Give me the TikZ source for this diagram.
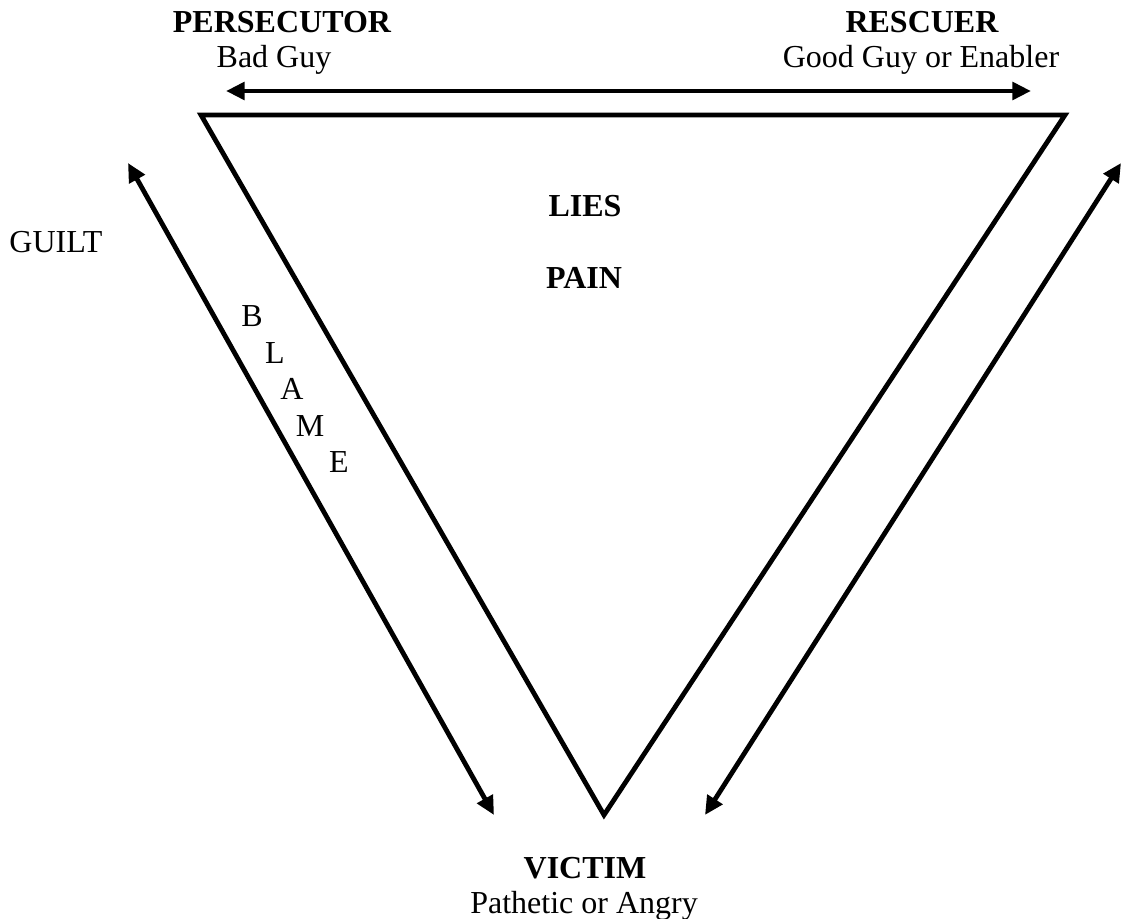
\documentclass[tikz,border=0pt]{standalone}
\usepackage{fontspec}
\setmainfont{Liberation Serif}
\usetikzlibrary{arrows.meta}
\begin{document}
\begin{tikzpicture}[x=0.75pt,y=-0.75pt,
  lbl/.style={inner sep=0pt,anchor=base,font=\fontsize{24}{28}\selectfont},
  blbl/.style={lbl,font=\fontsize{24}{28}\selectfont\bfseries},
  edge/.style={line width=3.6pt,line join=miter},
  dbl/.style={line width=3.6pt,{Triangle[length=14pt,width=13pt]}-{Triangle[length=14pt,width=13pt]}}]
\useasboundingbox (0,0) rectangle (1122,919);
% triangle corners
\coordinate (P) at (201,115);
\coordinate (R) at (1065,115);
\coordinate (V) at (604,815);
\draw[edge] (P) -- (R) -- (V) -- cycle;
% arrow end points
\coordinate (hl) at (226,91);
\coordinate (hr) at (1031,91);
\coordinate (gl) at (128,163);
\coordinate (gv) at (494,815);
\coordinate (rv) at (705,815);
\coordinate (rr) at (1121,163);
\draw[dbl] (hl) -- (hr);
\draw[dbl] (gl) -- (gv);
\draw[dbl] (rv) -- (rr);
% labels
\node[blbl] (pers) at (282,33) {PERSECUTOR};
\node[lbl] (bad) at (274,68) {Bad Guy};
\node[blbl] (resc) at (922,33) {RESCUER};
\node[lbl] (good) at (921,68) {Good Guy or Enabler};
\node[lbl] (guilt) at (56,253) {GUILT};
\node[lbl] (b) at (252,327) {B};
\node[lbl] (l) at (275,364) {L};
\node[lbl] (a) at (292,400) {A};
\node[lbl] (m) at (310,437) {M};
\node[lbl] (e) at (339,473) {E};
\node[blbl] (lies) at (585,217) {LIES};
\node[blbl] (pain) at (584,289) {PAIN};
\node[blbl] (vict) at (585,878) {VICTIM};
\node[lbl] (path) at (584,913) {Pathetic or Angry};
\end{tikzpicture}
\end{document}
